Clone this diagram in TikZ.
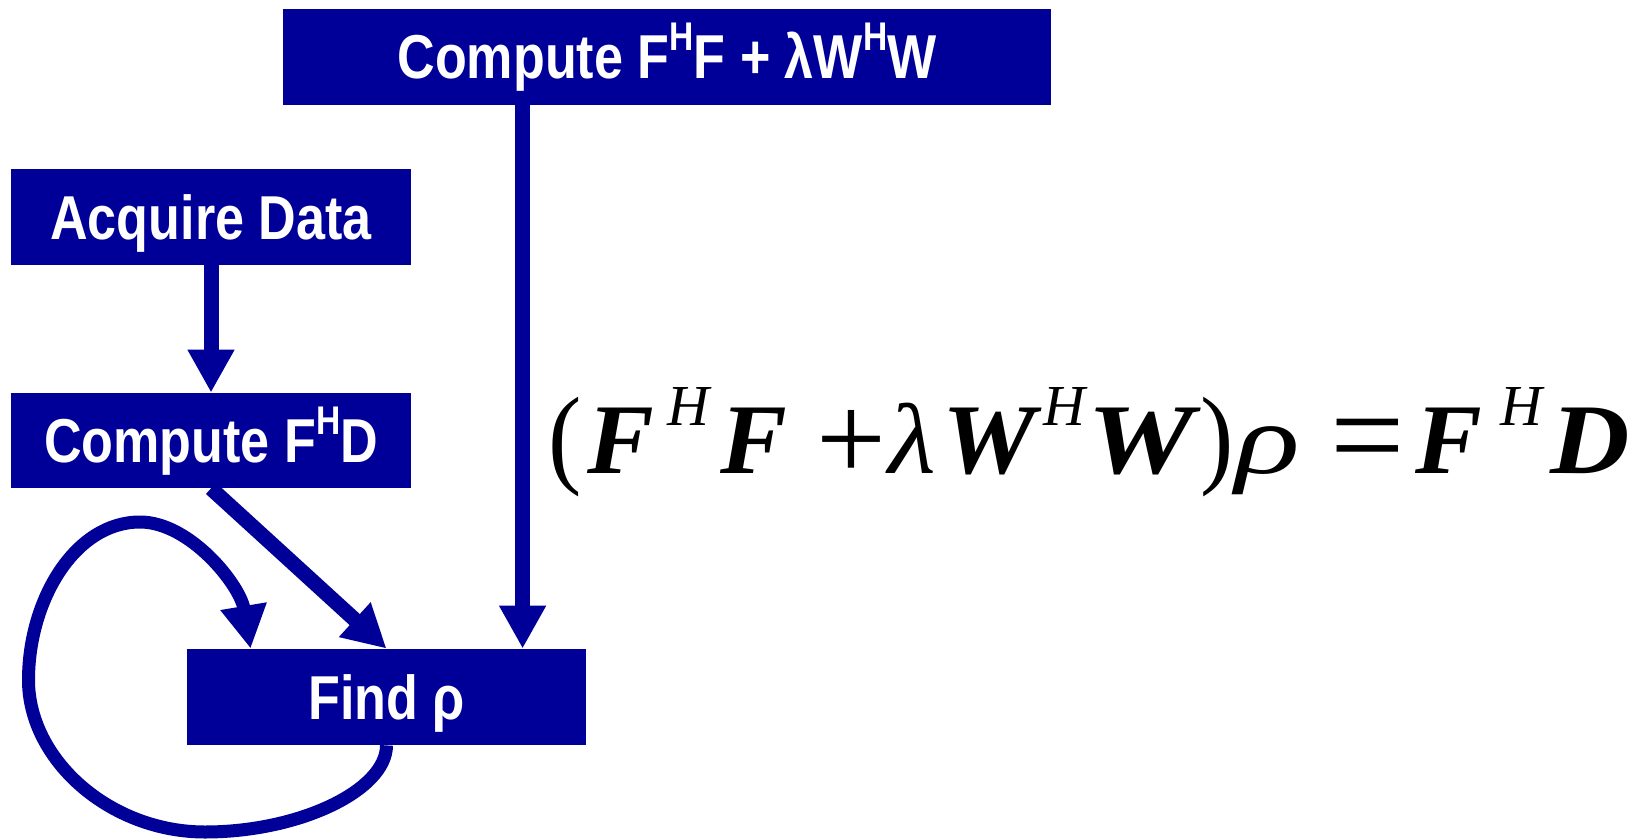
\documentclass[tikz,border=0pt]{standalone}
\usepackage{fontspec}
\usepackage{graphicx}
\usetikzlibrary{arrows.meta}
\newfontfamily\boxfont[FakeStretch=0.84]{Liberation Sans}
\newfontfamily\eqfont{Liberation Serif}
\definecolor{flowblue}{RGB}{0,0,153}
% raised superscript H inside the step boxes
\newcommand\supH{\raisebox{14pt}{\fontsize{20}{20}\selectfont H}}
% fixed-advance glyph slot for the equation
\newcommand\gl[2]{\makebox[#1pt][l]{#2}}
\newcommand\eqsup[1]{\raisebox{24pt}{\fontsize{29}{29}\selectfont\mdseries\itshape #1}}
\newcommand\eqvar[2][1]{\scalebox{#1}[1]{\bfseries\itshape #2}}
\newcommand\eqsym[2][1]{\scalebox{#1}[1]{\itshape #2}}
\newcommand\bigop[3][-1pt]{\raisebox{#1}{\fontsize{#2}{#2}\selectfont #3}}
\newcommand\tallpar[1]{\scalebox{1}[1.1]{#1}}
\begin{document}
\begin{tikzpicture}[x=0.5pt,y=-0.5pt,
  stepbox/.style={fill=flowblue, text=white, inner sep=0pt,
    font=\boxfont\bfseries\fontsize{31}{31}\selectfont,
    text height=22pt, text depth=0pt},
  flow/.style={draw=flowblue, line width=7.5pt,
    -{Triangle[length=21.5pt,width=22pt]}}
]
\useasboundingbox (0,0) rectangle (1649,840);

% process steps
\node[stepbox, minimum width=384pt, minimum height=48pt] (gram) at (667,57)
  {Compute F\supH F + λW\supH W};
\node[stepbox, minimum width=200pt, minimum height=48pt] (acq) at (211,217)
  {Acquire Data};
\node[stepbox, minimum width=200pt, minimum height=47.5pt] (fhd) at (211,440.5)
  {Compute F\supH D};
\node[stepbox, minimum width=199.5pt, minimum height=48pt] (find) at (386.5,697)
  {Find ρ};

% normal equations
\node[anchor=base west, inner sep=0pt, font=\eqfont\fontsize{50}{50}\selectfont]
  (eq) at (548,473) {%
  \gl{19.5}{\tallpar{(}}%
  \gl{40}{\eqvar{F}}%
  \gl{26.5}{\eqsup{H}}%
  \gl{48}{\eqvar{F}}%
  \gl{36}{\bigop[-3.5pt]{62}{+}}%
  \gl{27}{\eqsym[1.1]{λ}}%
  \gl{50.5}{\eqvar[1.05]{W}}%
  \gl{22}{\eqsup{H}}%
  \gl{56.5}{\eqvar[1.2]{W}}%
  \gl{17.5}{\tallpar{)}}%
  \gl{47.5}{\eqsym[1.35]{ρ}}%
  \gl{42.5}{\bigop[-3pt]{66}{=}}%
  \gl{42.5}{\eqvar{F}}%
  \gl{25}{\eqsup{H}}%
  \eqvar[1.1]{D}};

% connectors
\coordinate (tap) at ([xshift=120pt]gram.south west);
\draw[flow] (acq) -- (fhd);
\draw[flow] (fhd.south) -- (find.north);
\draw[flow] (tap) -- (tap |- find.north);
\draw[flow, line width=6.5pt] (find.south)
  .. controls (386.5,790) and (300,832) .. (205,832)
  .. controls (110,832) and (28.5,760) .. (28.5,680)
  .. controls (28.5,600) and (75,522) .. (140,522)
  .. controls (190,522) and (240,585) .. ([xshift=32pt]find.north west);
\end{tikzpicture}
\end{document}
